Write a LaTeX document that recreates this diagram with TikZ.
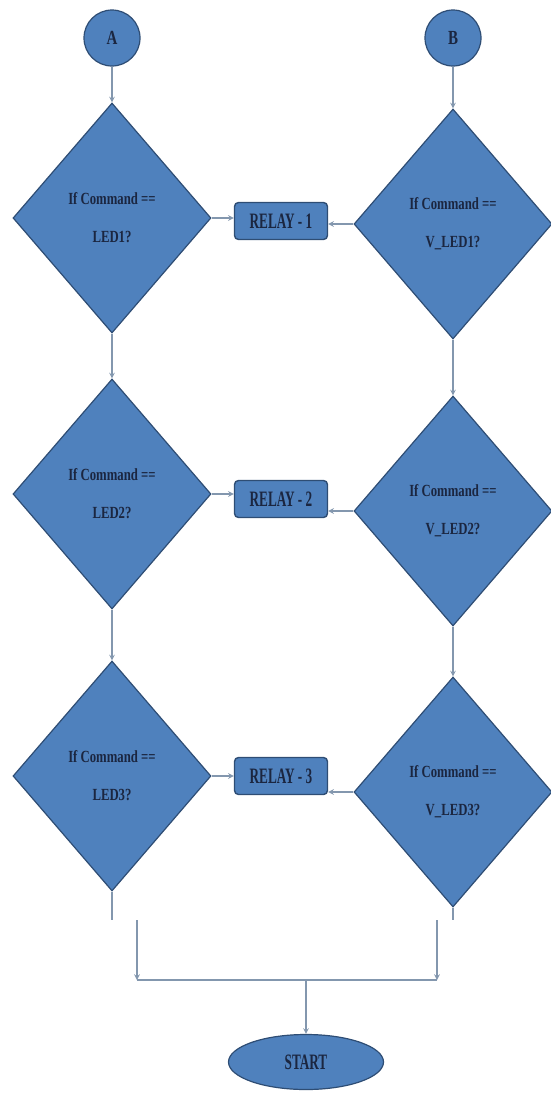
\documentclass[tikz,border=0pt]{standalone}
\usepackage{fontspec}
\newfontfamily\flowfont{Liberation Serif}[FakeStretch=0.75]
\newfontfamily\narrowfont{Liberation Serif}[FakeStretch=0.6]
\usetikzlibrary{arrows,shapes.geometric,positioning}
\definecolor{boxblue}{HTML}{4F81BD}
\definecolor{boxline}{HTML}{2E4D74}
\definecolor{boxtext}{HTML}{1B2640}
\definecolor{wiregray}{HTML}{8397AE}

\begin{document}
\begin{tikzpicture}[x=1pt, y=-1pt,
    decision/.style={diamond, draw=boxline, fill=boxblue, line width=1.2pt,
        minimum width=198pt, minimum height=230pt, inner sep=0pt, align=center,
        text=boxtext, font=\flowfont\bfseries\fontsize{17}{38}\selectfont},
    relay/.style={rectangle, rounded corners=4pt, draw=boxline, fill=boxblue,
        line width=1.4pt, minimum width=93pt, minimum height=37pt, text=boxtext,
        font=\narrowfont\bfseries\fontsize{22}{22}\selectfont},
    connect/.style={circle, draw=boxline, fill=boxblue, line width=1.2pt,
        minimum size=56pt, inner sep=0pt, text=boxtext,
        font=\flowfont\bfseries\fontsize{20}{20}\selectfont},
    terminal/.style={ellipse, draw=boxline, fill=boxblue, line width=1.2pt,
        minimum width=155pt, minimum height=55pt, inner sep=0pt, text=boxtext,
        font=\narrowfont\bfseries\fontsize{22}{22}\selectfont},
    wire/.style={draw=wiregray, line width=1.5pt}]
\useasboundingbox (0,0) rectangle (550,1093);
% left column
\node[connect] (A) at (112,38) {A};
\node[decision] (L1) at (112,218) {If Command ==\\LED1?}
    edge[wire, stealth-] (A);
\node[decision] (L2) at (112,494) {If Command ==\\LED2?}
    edge[wire, stealth-] (L1);
\node[decision] (L3) at (112,776) {If Command ==\\LED3?}
    edge[wire, stealth-] (L2);
% right column
\node[connect] (B) at (453,38) {B};
\node[decision] (R1) at (453,224) {If Command ==\\V\_LED1?}
    edge[wire, stealth-] (B);
\node[decision] (R2) at (453,511) {If Command ==\\V\_LED2?}
    edge[wire, stealth-] (R1);
\node[decision] (R3) at (453,792) {If Command ==\\V\_LED3?}
    edge[wire, stealth-] (R2);
% relays
\node[relay] (relay1) at (281,221) {RELAY - 1};
\node[relay] (relay2) at (281,499) {RELAY - 2};
\node[relay] (relay3) at (281,776) {RELAY - 3};
\draw[wire, -stealth] (L1.east) -- (L1.east -| relay1.west);
\draw[wire, -stealth] (R1.west) -- (R1.west -| relay1.east);
\draw[wire, -stealth] (L2.east) -- (L2.east -| relay2.west);
\draw[wire, -stealth] (R2.west) -- (R2.west -| relay2.east);
\draw[wire, -stealth] (L3.east) -- (L3.east -| relay3.west);
\draw[wire, -stealth] (R3.west) -- (R3.west -| relay3.east);
% join and start
\coordinate (cutL) at (112,920);
\coordinate (cutR) at (453,920);
\coordinate (joinL0) at (137,920);
\coordinate (joinR0) at (437,920);
\coordinate (joinL) at (137,980);
\coordinate (joinR) at (437,980);
\coordinate (joinM) at (306,980);
\node[terminal] (start) at (306,1062) {START};
\draw[wire] (L3.south) -- (cutL);
\draw[wire] (R3.south) -- (cutR);
\draw[wire, -stealth] (joinL0) -- (joinL);
\draw[wire, -stealth] (joinR0) -- (joinR);
\draw[wire] (joinL) -- (joinR);
\draw[wire, -stealth] (joinM) -- (start);
\end{tikzpicture}
\end{document}
